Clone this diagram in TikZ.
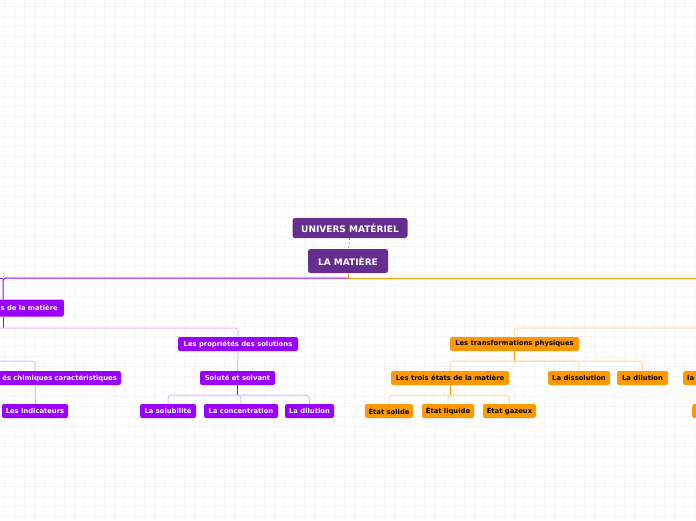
\documentclass[tikz,border=0pt]{standalone}
\usepackage{fontspec}
\setmainfont{DejaVu Sans}
\definecolor{darkvio}{RGB}{102,45,145}
\definecolor{vio}{RGB}{153,0,255}
\definecolor{lightvio}{RGB}{226,184,255}
\definecolor{orng}{RGB}{255,153,0}
\definecolor{lightorng}{RGB}{255,218,165}
\definecolor{gridgray}{RGB}{246,246,246}
\tikzset{
  rootbox/.style={fill=darkvio, text=white, rounded corners=2.5pt, inner sep=0pt,
    font=\fontsize{9}{10}\selectfont\bfseries},
  viobox/.style={fill=vio, text=white, rounded corners=2pt, inner sep=0pt,
    minimum height=14pt, font=\fontsize{6.8}{8}\selectfont\bfseries},
  orbox/.style={fill=orng, text=black, rounded corners=2pt, inner sep=0pt,
    minimum height=14pt, font=\fontsize{6.8}{8}\selectfont\bfseries},
  violine/.style={vio, line width=1pt, rounded corners=3pt},
  lvioline/.style={lightvio, line width=1pt, rounded corners=3pt},
  orline/.style={orng, line width=1pt, rounded corners=3pt},
  lorline/.style={lightorng, line width=1pt, rounded corners=3pt}
}
\begin{document}
\begin{tikzpicture}[x=1pt, y=-1pt]
\useasboundingbox (0,0) rectangle (696,520);
\clip (0,0) rectangle (696,520);
\fill[white] (0,0) rectangle (696,520);
% background grid
\foreach \gx in {4,14,...,694} \draw[gridgray, line width=1pt] (\gx,0) -- (\gx,520);
\foreach \gy in {6,16,...,516} \draw[gridgray, line width=1pt] (0,\gy) -- (696,\gy);

% root
\node[rootbox, minimum width=115pt, minimum height=20pt] (univ) at (350,228) {UNIVERS MATÉRIEL};
\node[rootbox, minimum width=80pt, minimum height=24pt] (mat) at (348,261) {LA MATIÈRE};
\draw[darkvio, dashed, dash pattern=on 2pt off 2pt] (univ) -- (mat);

% purple side
\node[viobox, anchor=east, minimum height=17pt, text width=90pt, align=right] (propmat) at (64,308) {s de la matière\hspace*{6pt}};
\node[viobox, minimum width=120pt] (propsol) at (238,344) {Les propriétés des solutions};
\node[viobox, minimum width=75pt] (solute) at (237.5,378) {Soluté et solvant};
\node[viobox, minimum width=56pt] (solub) at (168,411) {La solubilité};
\node[viobox, minimum width=74pt] (conc) at (241,411) {La concentration};
\node[viobox, minimum width=49pt] (dilv) at (309.5,411) {La dilution};
\node[viobox, anchor=east, text width=150pt, align=right] (chim) at (121,378) {és chimiques caractéristiques\hspace*{4pt}};
\node[viobox, minimum width=66pt] (indic) at (35,411) {Les indicateurs};

% orange side
\node[orbox, minimum width=129pt] (transf) at (514.5,344) {Les transformations physiques};
\node[orbox, minimum width=118pt] (trois) at (450,378) {Les trois états de la matière};
\node[orbox, minimum width=62pt] (dissol) at (579,378) {La dissolution};
\node[orbox, minimum width=51pt] (dilo) at (642.5,378) {La dilution};
\node[orbox, anchor=west, text width=40pt, align=left] (lanode) at (683,378) {\hspace*{4pt}la};
\node[orbox, anchor=west, minimum width=40pt] (offnode) at (692,411) {};
\node[orbox, minimum width=48pt] (solide) at (389,411) {État solide};
\node[orbox, minimum width=52pt] (liquide) at (448,411) {État liquide};
\node[orbox, minimum width=53pt] (gazeux) at (509.5,411) {État gazeux};

% main branches
\coordinate (fork) at (348,278);
\coordinate (leftend) at (0,278);
\coordinate (rightend) at (696,278);
\draw[orng, line width=1pt] (mat.south) -- (fork) -- (rightend);
\draw[violine] (fork) -| ([xshift=-61pt]propmat.north east);
\draw[blue!70, line width=1pt] (leftend) -- ++(3,0);

% purple connectors
\coordinate (pbus) at (0,328);
\draw[violine] ([xshift=-61pt]propmat.south east) -- ++(0,11);
\draw[lvioline] (pbus) -| (propsol.north);
\draw[lvioline] (propsol.south) -- (solute.north);
\draw[violine] (solute.south) -- ++(0,10);
\draw[lvioline] ([yshift=-10pt]solute.south) -| (solub.north);
\draw[lvioline] ([yshift=-10pt]solute.south) -| (conc.north);
\draw[lvioline] ([yshift=-10pt]solute.south) -| (dilv.north);
\coordinate (cbus) at (0,361);
\draw[lvioline] (cbus) -| (indic.north |- chim.north);
\draw[lvioline] (indic.north |- chim.south) -- (indic.north);

% orange connectors
\coordinate (obus) at (696,328);
\draw[lorline] (obus) -| (transf.north);
\draw[orline] (transf.south) -- ++(0,10);
\draw[lorline] ([yshift=-10pt]transf.south) -| (trois.north);
\draw[lorline] ([yshift=-10pt]transf.south) -| (dissol.north);
\draw[lorline] ([yshift=-10pt]transf.south) -| (dilo.north);
\draw[orline] (trois.south) -- ++(0,10);
\draw[lorline] ([yshift=-10pt]trois.south) -| (solide.north);
\draw[lorline] ([yshift=-10pt]trois.south) -| (liquide.north);
\draw[lorline] ([yshift=-10pt]trois.south) -| (gazeux.north);
\end{tikzpicture}
\end{document}
